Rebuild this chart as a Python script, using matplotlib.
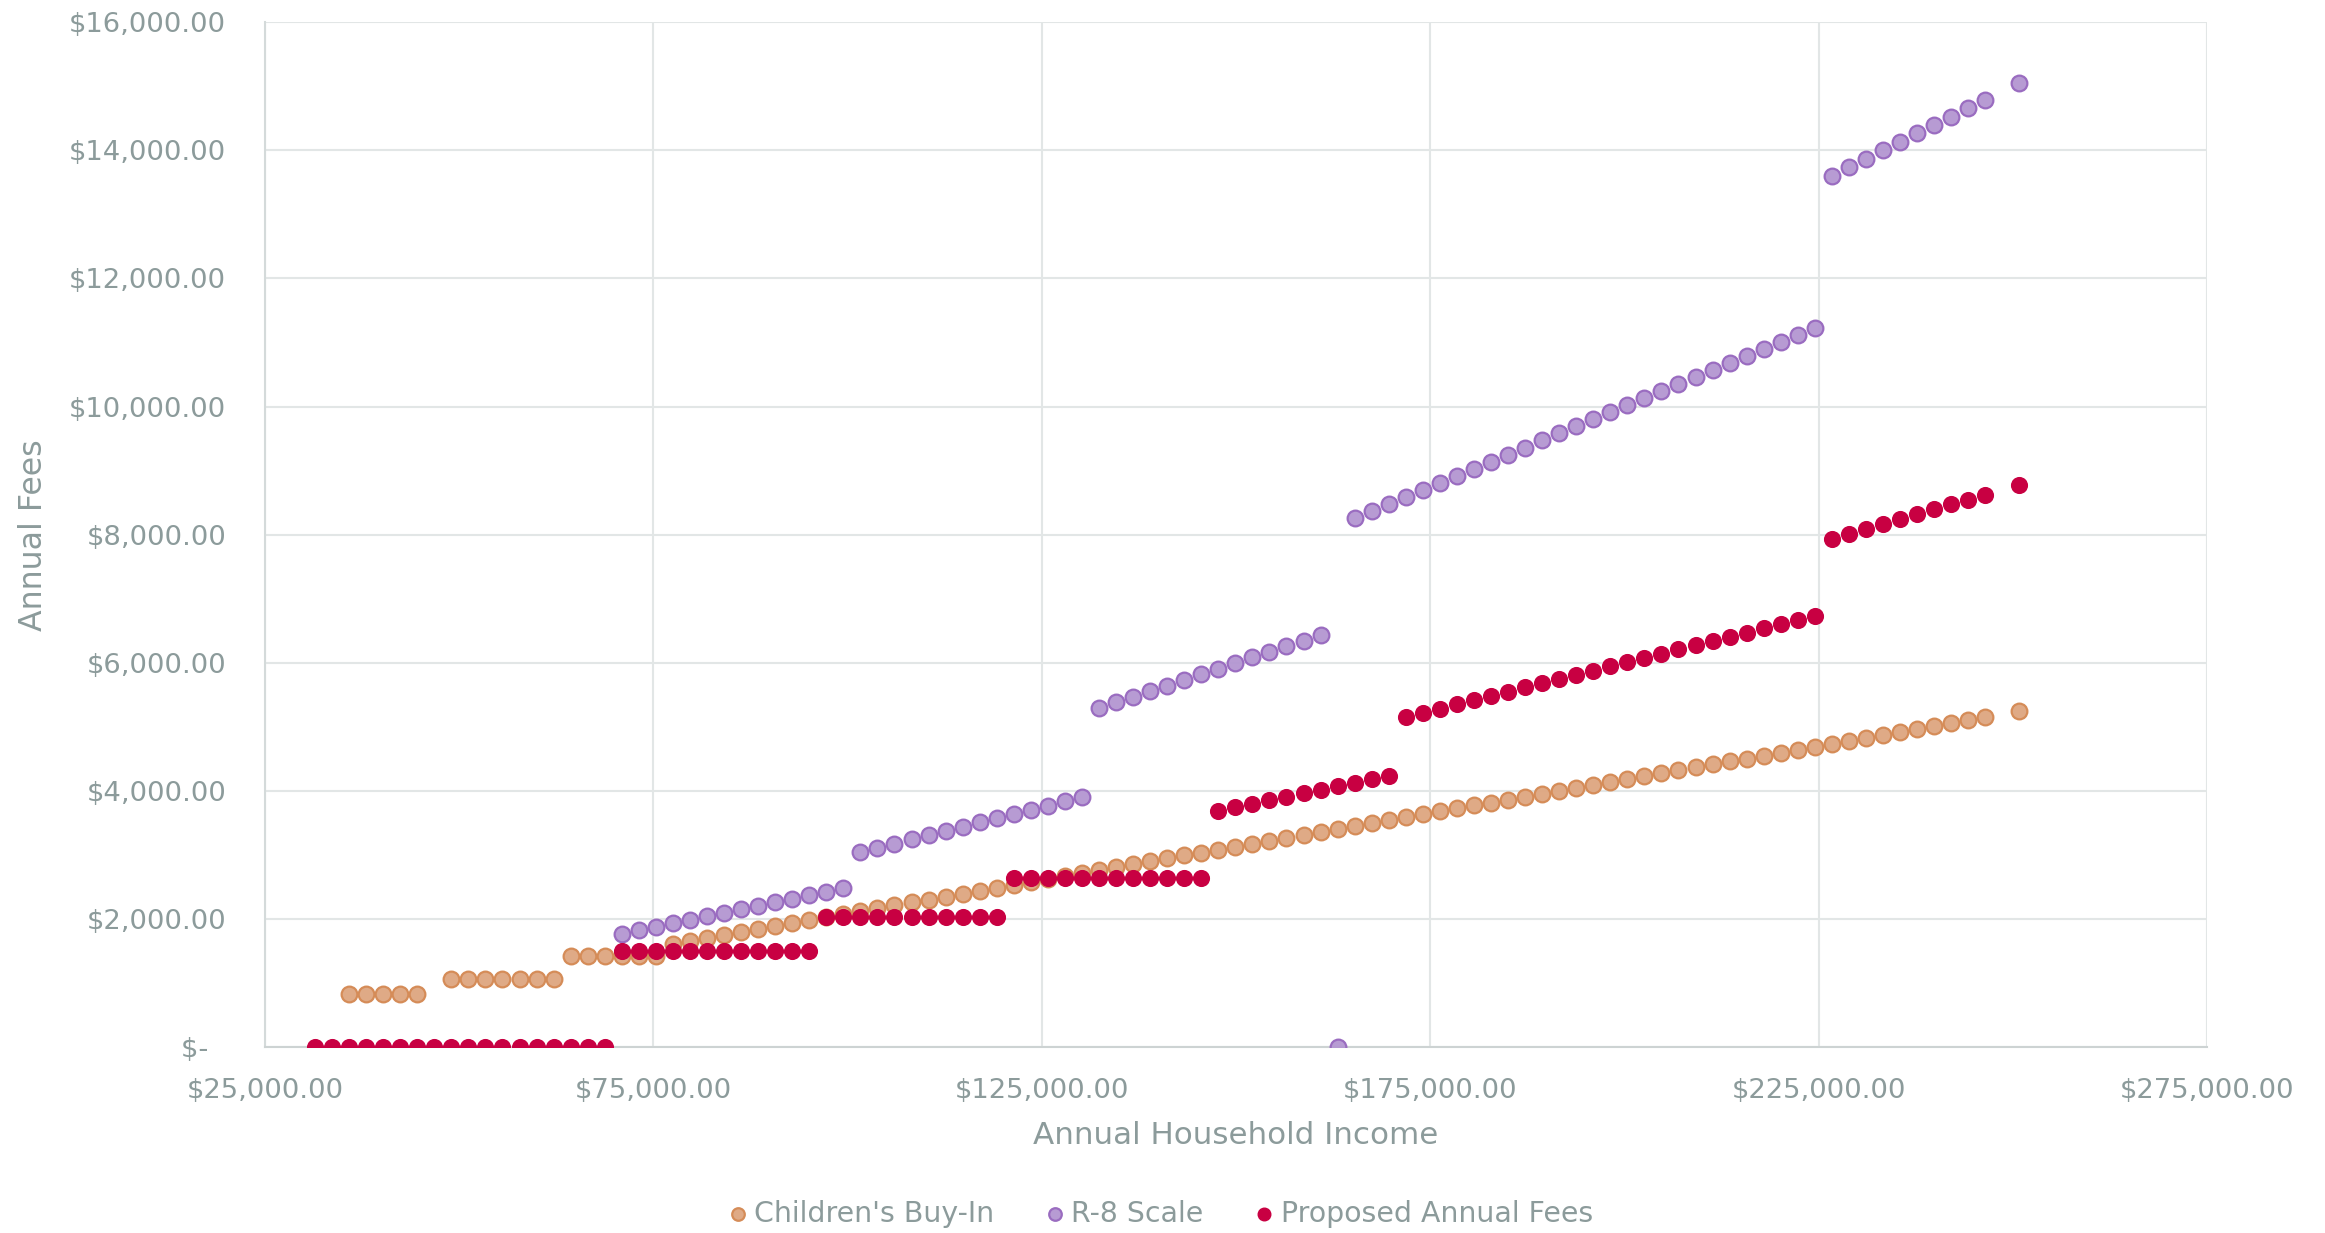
import matplotlib
matplotlib.use("Agg")
import matplotlib.pyplot as plt
from matplotlib.ticker import FuncFormatter, MultipleLocator

# ---------------- data ----------------
income = [31430, 33624, 35818, 38012, 40206, 42400, 44594, 46788, 48982, 51176,
          53370, 55564, 57758, 59952, 62146, 64340, 66534, 68728, 70922, 73116,
          75310, 77504, 79698, 81892, 84086, 86280, 88474, 90668, 92862, 95056,
          97250, 99444, 101638, 103832, 106026, 108220, 110414, 112608, 114802, 116996,
          119190, 121384, 123578, 125772, 127966, 130160, 132354, 134548, 136742, 138936,
          141130, 143324, 145518, 147712, 149906, 152100, 154294, 156488, 158682, 160876,
          163070, 165264, 167458, 169652, 171846, 174040, 176234, 178428, 180622, 182816,
          185010, 187204, 189398, 191592, 193786, 195980, 198174, 200368, 202562, 204756,
          206950, 209144, 211338, 213532, 215726, 217920, 220114, 222308, 224502, 226696,
          228890, 231084, 233278, 235472, 237666, 239860, 242054, 244248, 246442, 250830]

# Children's Buy-In (None = no point)
childrens_buy_in = [None, None, 835, 835, 835, 835, 835, None, 1070, 1070,
                    1070, 1070, 1070, 1070, 1070, 1430, 1430, 1430, 1430, 1430,
                    1430, 1620, 1666, 1712, 1757, 1803, 1849, 1895, 1941, 1987,
                    2033, 2078, 2124, 2170, 2216, 2262, 2308, 2354, 2399, 2445,
                    2491, 2537, 2583, 2629, 2674, 2720, 2766, 2812, 2858, 2904,
                    2950, 2995, 3041, 3087, 3133, 3179, 3225, 3270, 3316, 3362,
                    3408, 3454, 3500, 3546, 3592, 3637, 3683, 3729, 3775, 3821,
                    3867, 3912, 3958, 4004, 4050, 4096, 4142, 4187, 4233, 4279,
                    4325, 4371, 4417, 4463, 4508, 4554, 4600, 4646, 4692, 4738,
                    4784, 4830, 4875, 4921, 4967, 5013, 5059, 5105, 5150, 5242]

r8_scale = [None, None, None, None, None, None, None, None, None, None,
            None, None, None, None, None, None, None, None, 1773, 1828,
            1883, 1938, 1992, 2047, 2102, 2157, 2212, 2267, 2322, 2376,
            2431, 2486, 3049, 3115, 3181, 3247, 3312, 3378, 3444, 3510,
            3576, 3642, 3707, 3773, 3839, 3905, 5294, 5382, 5470, 5557,
            5645, 5733, 5821, 5908, 5996, 6084, 6172, 6260, 6347, 6435,
            0, 8263, 8373, 8483, 8592, 8702, 8812, 8921, 9031, 9141,
            9251, 9360, 9470, 9580, 9689, 9799, 9909, 10018, 10128, 10238,
            10348, 10457, 10567, 10677, 10786, 10896, 11006, 11115, 11225, 13602,
            13733, 13865, 13997, 14128, 14260, 14392, 14523, 14655, 14787, 15050]

proposed_fees = [0, 0, 0, 0, 0, 0, 0, 0, 0, 0,
                 0, 0, 0, 0, 0, 0, 0, 0, 1500, 1500,
                 1500, 1500, 1500, 1500, 1500, 1500, 1500, 1500, 1500, 1500,
                 2035, 2035, 2035, 2035, 2035, 2035, 2035, 2035, 2035, 2035,
                 2035, 2640, 2640, 2640, 2640, 2640, 2640, 2640, 2640, 2640,
                 2640, 2640, 2640, 3693, 3748, 3803, 3857, 3912, 3967, 4022,
                 4077, 4132, 4186, 4241, 5155, 5221, 5287, 5353, 5419, 5484,
                 5550, 5616, 5682, 5748, 5814, 5879, 5945, 6011, 6077, 6143,
                 6209, 6274, 6340, 6406, 6472, 6538, 6603, 6669, 6735, 7934,
                 8011, 8088, 8165, 8242, 8318, 8395, 8472, 8549, 8625, 8779]

series_names = ["Children's Buy-In", "R-8 Scale", "Proposed Annual Fees"]
x_ticks = [25000, 75000, 125000, 175000, 225000, 275000]

# ---------------- style ----------------
TEXT = "#8c9b9b"
GRID = "#e2e6e6"
plt.rcParams['font.family'] = ['DejaVu Sans']

fig = plt.figure(figsize=(23.25, 12.33), dpi=100)
ax = fig.add_axes([0.114, 0.1505, 0.8353, 0.8317])


def pts(vals):
    xs = [x for x, v in zip(income, vals) if v is not None]
    ys = [v for v in vals if v is not None]
    return xs, ys


x1, y1 = pts(childrens_buy_in)
x2, y2 = pts(r8_scale)
x3, y3 = pts(proposed_fees)

S = 128
ax.scatter(x1, y1, s=S, facecolor=(0.87, 0.65, 0.50, 0.95), edgecolor="#d58c58",
           linewidths=1.6, label=series_names[0], zorder=3)
ax.scatter(x2, y2, s=S, facecolor=(0.70, 0.59, 0.82, 0.95), edgecolor="#9a6cc0",
           linewidths=1.6, label=series_names[1], zorder=3)
ax.scatter(x3, y3, s=S, facecolor="#c80042", edgecolor="#c80042",
           linewidths=1.0, label=series_names[2], zorder=4)

ax.set_xlim(25000, 275000)
ax.set_ylim(0, 16000)
ax.set_xticks(x_ticks)
ax.yaxis.set_major_locator(MultipleLocator(2000))


def money(v, pos):
    if abs(v) < 1e-9:
        return "$-  "
    return "${:,.2f}".format(v)


ax.xaxis.set_major_formatter(FuncFormatter(money))
ax.yaxis.set_major_formatter(FuncFormatter(money))

ax.grid(True, color=GRID, linewidth=1.5, zorder=0)
ax.set_axisbelow(True)
for s in ["top", "right"]:
    ax.spines[s].set_visible(False)
ax.spines["left"].set_color("#d4dada")
ax.spines["left"].set_linewidth(1.5)
ax.spines["bottom"].set_color("#cdd3d3")
ax.spines["bottom"].set_linewidth(1.5)

ax.tick_params(axis="both", length=0, labelsize=19.7, colors=TEXT)
ax.tick_params(axis="y", pad=28)
ax.tick_params(axis="x", pad=22)

ax.set_xlabel("Annual Household Income", fontsize=22.3, color=TEXT, labelpad=12)
ax.set_ylabel("Annual Fees", fontsize=22.8, color=TEXT, labelpad=14)

leg = fig.legend(loc="center", bbox_to_anchor=(0.4985, 0.0155), ncol=3, frameon=False,
                 fontsize=20.4, markerscale=0.8, handletextpad=0.12, columnspacing=1.7,
                 handlelength=0.9, borderpad=0)
for t in leg.get_texts():
    t.set_color(TEXT)

fig.savefig("out.png", dpi=100, facecolor="white")
